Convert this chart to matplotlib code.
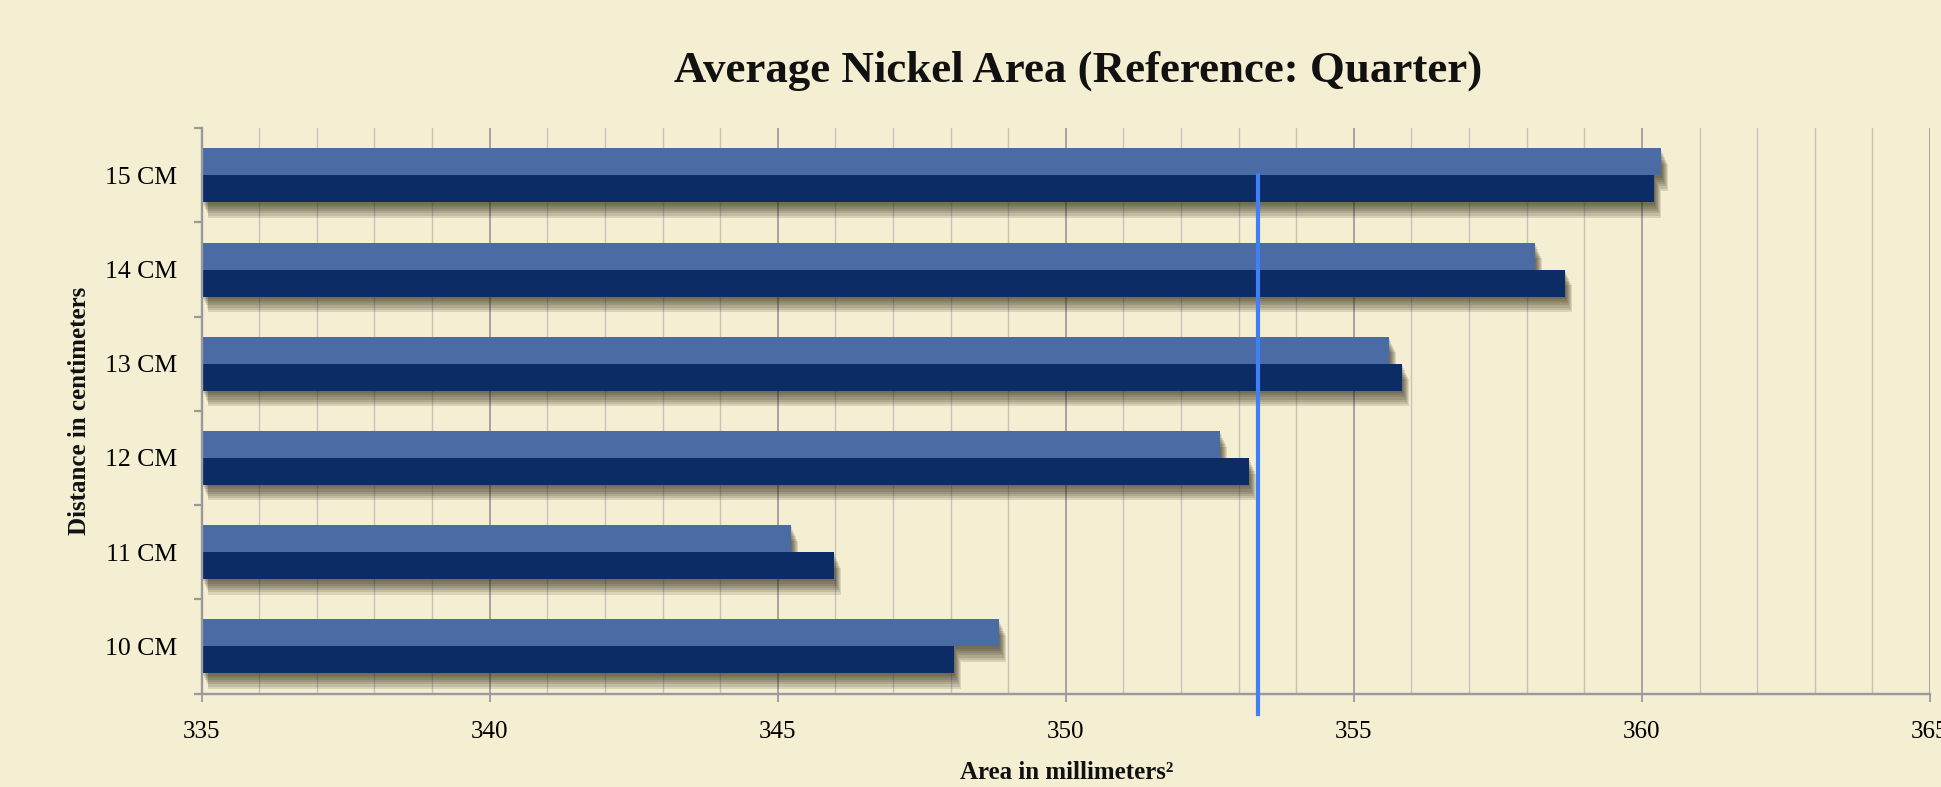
import matplotlib
matplotlib.use("Agg")
import matplotlib.pyplot as plt
import matplotlib.patheffects as pe
from matplotlib.ticker import MultipleLocator, FixedLocator
import numpy as np

# measured nickel areas for each distance
categories = ['10 CM', '11 CM', '12 CM', '13 CM', '14 CM', '15 CM']
upper_bar = [348.84, 345.23, 352.68, 355.61, 358.15, 360.33]
lower_bar = [348.06, 345.98, 353.18, 355.84, 358.67, 360.21]
nickel_area = 353.33   # true nickel area, reference line
x_min, x_max = 335, 365

paper = '#f4eed3'
light_blue = '#4a6ba3'
dark_blue = '#0c2c66'
serif = ['Liberation Serif', 'DejaVu Serif']

plt.rcParams['font.family'] = serif

fig = plt.figure(figsize=(19.41, 7.87), dpi=100, facecolor=paper)
ax = fig.add_axes([0.1039, 0.1188, 0.8904, 0.7182])
ax.set_facecolor(paper)

# soft drop shadow under every bar, built from stacked offset copies
shadow = [pe.SimplePatchShadow(offset=(0.7 * k, -1.6 * k), shadow_rgbFace='#2a2410', alpha=0.13)
          for k in (1, 2, 3, 4, 5, 6, 7)] + [pe.Normal()]

y = np.arange(len(categories))
h = 0.286
ax.barh(y + h / 2, [v - x_min for v in upper_bar], left=x_min, height=h,
        color=light_blue, zorder=3, path_effects=shadow)
ax.barh(y - h / 2, [v - x_min for v in lower_bar], left=x_min, height=h,
        color=dark_blue, zorder=4, path_effects=shadow)

# reference line for the nickel area
top = (len(categories) - 1 + 0.5) / len(categories)
ax.axvline(nickel_area, ymin=-0.036, ymax=top, color='#3f80f6', lw=3.0,
           zorder=6, clip_on=False)

ax.set_xlim(x_min, x_max)
ax.set_ylim(-0.5, len(categories) - 0.5)

# x axis: major every 5, minor every 1, both as vertical grid lines
ax.xaxis.set_major_locator(MultipleLocator(5))
ax.xaxis.set_minor_locator(MultipleLocator(1))
ax.grid(True, axis='x', which='major', color='#9e9e9e', lw=1.3, zorder=0)
ax.grid(True, axis='x', which='minor', color='#c6c4bd', lw=1.0, zorder=0)
ax.tick_params(axis='x', which='major', direction='out', length=6, width=1.3,
               color='#9a9a9a', pad=14, labelsize=18)
ax.tick_params(axis='x', which='minor', length=0)

# y axis: labels at category centres, ticks on the boundaries
ax.yaxis.set_major_locator(FixedLocator(y))
ax.set_yticklabels(categories)
ax.yaxis.set_minor_locator(FixedLocator(np.arange(-0.5, len(categories), 1.0)))
ax.tick_params(axis='y', which='major', length=0, pad=18, labelsize=18.5)
ax.tick_params(axis='y', which='minor', direction='out', length=5.5, width=1.6,
               color='#9a9a9a')

for side in ('top', 'right'):
    ax.spines[side].set_visible(False)
for side in ('left', 'bottom'):
    ax.spines[side].set_color('#9a9a9a')
    ax.spines[side].set_linewidth(1.7)
    ax.spines[side].set_zorder(5)

fig.text(0.5554, 0.897, 'Average Nickel Area (Reference: Quarter)', ha='center',
         va='baseline', fontsize=32.3, fontweight='bold', color='#111111')
fig.text(0.5497, 0.019, 'Area in millimeters²', ha='center', va='center',
         fontsize=18, fontweight='bold', color='#111111')
fig.text(0.0412, 0.478, 'Distance in centimeters', ha='center', va='center',
         rotation=90, fontsize=18, fontweight='bold', color='#111111')

fig.savefig('out.png', dpi=100, facecolor=paper)
